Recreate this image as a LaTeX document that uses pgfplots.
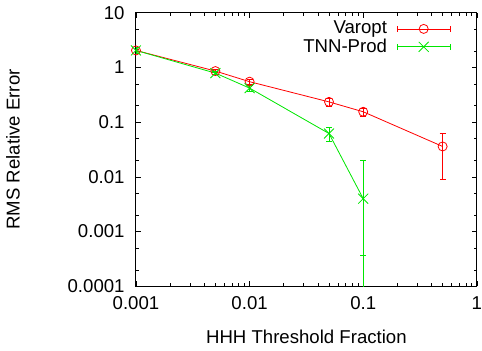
\documentclass[border=0pt]{standalone}
\usepackage{fontspec}
\setmainfont{Liberation Sans}
\usepackage{pgfplots}
\pgfplotsset{compat=1.18}
\definecolor{gpred}{RGB}{255,0,0}
\definecolor{gpgreen}{RGB}{0,230,0}
\begin{document}
\fontsize{18.5}{20}\selectfont
\begin{tikzpicture}
\begin{axis}[
  scale only axis,
  width=339pt, height=272pt,
  xmode=log, ymode=log,
  xmin=0.001, xmax=1, ymin=0.0001, ymax=10,
  xtick={0.001,0.01,0.1,1},
  xticklabels={0.001,0.01,0.1,1},
  ytick={0.0001,0.001,0.01,0.1,1,10},
  yticklabels={0.0001,0.001,0.01,0.1,1,10},
  minor ytick={0.0002,0.0005,0.002,0.005,0.02,0.05,0.2,0.5,2,5},
  tick align=inside,
  major tick length=5pt, minor tick length=3pt,
  axis line style={line width=1pt},
  every tick/.style={black, line width=0.6pt},
  tick label style={font=\fontsize{18.5}{20}\selectfont},
  xticklabel style={yshift=-4pt, inner xsep=0pt},
  yticklabel style={xshift=-5pt},
  xlabel={HHH Threshold Fraction},
  ylabel={RMS Relative Error},
  label style={font=\fontsize{18.5}{20}\selectfont},
  xlabel style={yshift=-8pt},
  ylabel style={yshift=35pt},
  legend cell align=right,
  legend plot pos=right,
  legend style={at={(rel axis cs:0.93,0.985)}, anchor=north east, draw=none, fill=none,
    font=\fontsize{18.5}{20}\selectfont, row sep=-2pt, inner sep=2pt},
  legend image code/.code={
    \path[draw=none,fill=none] (0pt,-3pt) rectangle (61pt,3pt);
    \draw[#1,mark=none] (8pt,0pt) -- (61pt,0pt);
    \draw[#1,mark=none,line width=0.8pt] (8pt,-3pt) -- (8pt,3pt);
    \draw[#1,mark=none,line width=0.8pt] (61pt,-3pt) -- (61pt,3pt);
    \draw[#1,only marks] plot coordinates {(34.5pt,0pt)};
  },
  clip=true,
]
\addplot[color=gpred, line width=0.8pt, mark=o, mark size=4.5pt,
  error bars/.cd, y dir=both, y explicit, error mark=-,
  error bar style={gpred, line width=0.8pt},
  error mark options={rotate=90, gpred, mark size=3pt, line width=0.8pt}]
  coordinates {
  (0.001,2.05) +- (0,0.1)
  (0.005,0.86) +- (0,0.05)
  (0.01,0.55) +- (0,0.05)
  (0.05,0.235) +- (0,0.04)
  (0.1,0.155) +- (0,0.025)
  (0.5,0.036) +- (0,0.027)
};
\addlegendentry{Varopt}
\addplot[color=gpgreen, line width=0.8pt, mark=x, mark size=7pt,
  error bars/.cd, y dir=both, y explicit, error mark=-,
  error bar style={gpgreen, line width=0.8pt},
  error mark options={rotate=90, gpgreen, mark size=3pt, line width=0.8pt}]
  coordinates {
  (0.001,2.05) +- (0,0.25)
  (0.005,0.79) +- (0,0.05)
  (0.01,0.42) +- (0,0.05)
  (0.05,0.062) +- (0,0.017)
  (0.1,0.004) += (0,0.016) -= (0,0.00399)
};
\addlegendentry{TNN-Prod}
\addplot[color=gpgreen, only marks, mark=-, mark size=3pt, line width=0.8pt,
  mark options={draw=gpgreen}, forget plot]
  coordinates {(0.1,0.00037)};
\end{axis}
\end{tikzpicture}
\end{document}
